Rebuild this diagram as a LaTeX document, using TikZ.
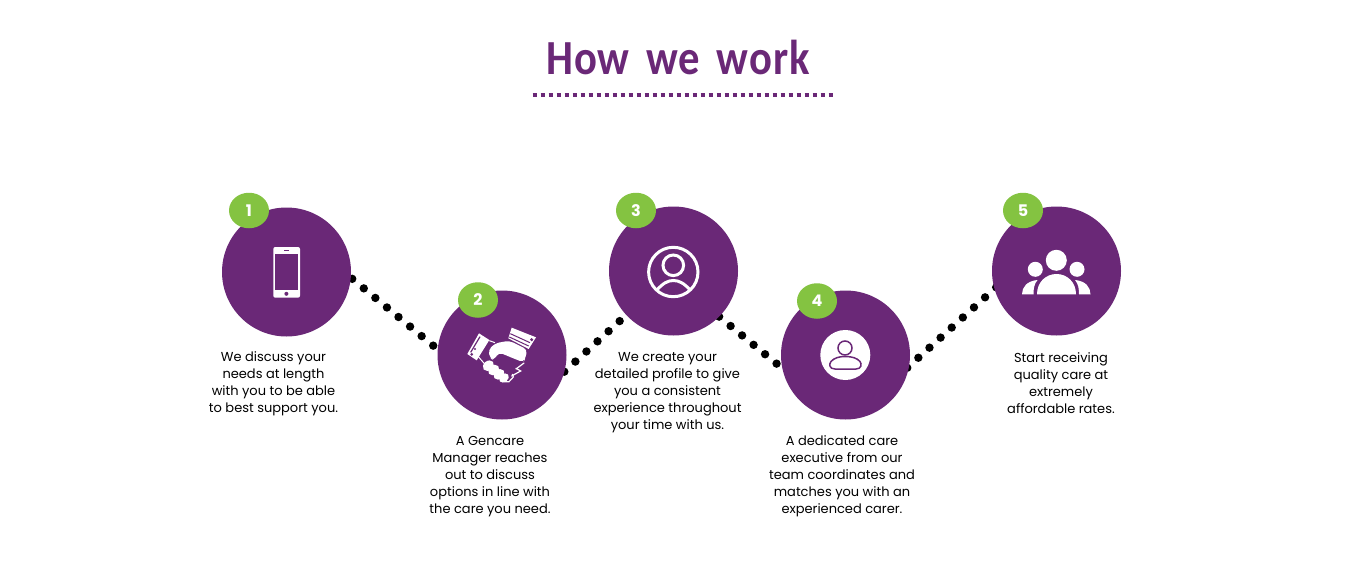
\documentclass[tikz,border=0pt]{standalone}
\usepackage{fontspec}
\setmainfont{Poppins}
\newfontfamily\titlefont[WordSpace=1.6,LetterSpace=2]{Carlito}
\usetikzlibrary{backgrounds}
\definecolor{gcpurple}{HTML}{6A2877}
\definecolor{gcgreen}{HTML}{84C341}
\tikzset{
  x=1pt,y=-1pt,
  bigdisc/.style={circle,fill=gcpurple,minimum size=129pt,inner sep=0pt,outer sep=0pt},
  badge/.style={ellipse,fill=gcgreen,minimum width=40pt,minimum height=35.5pt,inner sep=0pt,outer sep=0pt,text=white,font=\fontsize{16}{16}\selectfont\bfseries},
  caption/.style={align=center,inner sep=0pt,font=\fontsize{13}{17}\selectfont,text=black},
  dotline/.style={line width=8.4pt,line cap=round,black},
  iconline/.style={draw=white,line width=3pt},
}
\usetikzlibrary{shapes.geometric}
\begin{document}
\begin{tikzpicture}
\useasboundingbox (0,0) rectangle (1366,586);
% title
\node[inner sep=0pt,text=gcpurple,xscale=0.87,font=\fontsize{49}{49}\selectfont\titlefont\bfseries] (title) at (678,57) {How we work};
\coordinate (ruleL) at (532.7,95);
\coordinate (ruleR) at (833.3,95);
\draw[gcpurple,line width=4pt,dash pattern=on 4pt off 4pt] (ruleL) -- (ruleR);
% discs
\node[bigdisc] (c1) at (286.5,272) {};
\node[bigdisc] (c2) at (502,355) {};
\node[bigdisc] (c3) at (673.5,271) {};
\node[bigdisc] (c4) at (845.5,355) {};
\node[bigdisc] (c5) at (1056.5,271) {};
% connectors behind the discs
\begin{scope}[on background layer]
\fill[white] (0,0) rectangle (1366,586);
\draw[dotline,dash pattern=on 0pt off 15pt,dash phase=13.1pt] (c1.-5.4) -- (c2.175.4);
\draw[dotline,dash pattern=on 0pt off 15pt] (c2.-15.5) -- (c3.223);
\draw[dotline,dash pattern=on 0pt off 14.85pt] (c3.-45.6) -- (c4.192.2);
\draw[dotline,dash pattern=on 0pt off 15pt,shorten <=-2.4pt,shorten >=-3pt] (c4.-10) -- (c5.196.4);
\end{scope}
% badges
\node[badge] (b1) at (249,210.5) {1};
\node[badge] (b2) at (478,300) {2};
\node[badge] (b3) at (636,210.5) {3};
\node[badge] (b4) at (817,301) {4};
\node[badge] (b5) at (1023,210.5) {5};
% captions
\node[caption] (t1) at (273.5,383.7) {We discuss your\\needs at length\\with you to be able\\to best support you.};
\node[caption] (t2) at (490,476.8) {A Gencare\\Manager reaches\\out to discuss\\options in line with\\the care you need.};
\node[caption] (t3) at (667.5,393) {We create your\\detailed profile to give\\you a consistent\\experience throughout\\your time with us.};
\node[caption] (t4) at (842,476.3) {A dedicated care\\executive from our\\team coordinates and\\matches you with an\\experienced carer.};
\node[caption] (t5) at (1061,382.8) {Start receiving\\quality care at\\extremely\\affordable rates.};
% icon 1: phone
\fill[white,rounded corners=2pt] (273.3,247) rectangle (300,297.7);
\fill[gcpurple] (275.3,254) rectangle (297.7,290.3);
\fill[gcpurple] (286.4,293.8) circle (2pt);
\fill[gcpurple] (284,250) rectangle (289.3,250.8);
% icon 2: handshake
\begin{scope}[shift={(430,275)},x=0.33333pt,y=-0.33333pt]
\fill[white] (112,237) -- (147,175) -- (178,195) -- (140,256) -- cycle;
\fill[gcpurple] (125,238) circle (4.5);
\fill[gcpurple] (135,222) circle (3.5);
\draw[gcpurple,line width=1.2pt] (150,185) -- (122,232);
\fill[white] (245,158) -- (318,187) -- (296,222) -- (235,190) -- cycle;
\fill[gcpurple] (305,194) circle (5);
\draw[gcpurple,line width=1pt] (241,176) -- (300,203);
\draw[gcpurple,line width=1pt] (238,186) -- (296,213);
\fill[white,rounded corners=4pt] (238,197) -- (195,205) -- (175,225) -- (180,250) -- (192,256) -- (206,232) -- (226,240) -- (250,250) -- (280,262) -- (286,250) -- (292,224) -- cycle;
\draw[white,line width=1pt] (178,197) -- (195,203);
\draw[white,line width=1pt] (145,245) -- (165,268);
\draw[white,line width=1.2pt,line cap=round] (282,264) -- (258,282);
\draw[white,line width=1.2pt,line cap=round] (258,280) -- (272,288) -- (245,303);
\draw[white,line width=1.2pt,line cap=round] (247,298) -- (250,306) -- (237,320) -- (222,320);
\fill[white,rotate around={40:(175,272)}] (175,272) ellipse (18 and 14);
\fill[white,rotate around={40:(191,285)}] (191,285) ellipse (18 and 14);
\fill[white,rotate around={40:(207,298)}] (207,298) ellipse (18 and 14);
\fill[white,rotate around={40:(222,309)}] (222,309) ellipse (16 and 12);
\end{scope}
% icon 3: user in ring
\begin{scope}
\draw[iconline] (673.3,272) circle (24.7pt);
\draw[iconline] (673.3,265.3) circle (10.3pt);
\clip (673.3,272) circle (24.7pt);
\draw[iconline] (656,291) .. controls (663,283) and (668,280.5) .. (673.3,280.5) .. controls (679,280.5) and (684,283) .. (691,291);
\end{scope}
% icon 4: user in white disc
\fill[white] (845.3,355) circle (25pt);
\draw[gcpurple,line width=1.5pt] (845,348) circle (7pt);
\draw[gcpurple,line width=1.5pt] (835,369) .. controls (829,369) and (829,364) .. (831,361.5) .. controls (834,358) and (839,356.5) .. (845,356.5) .. controls (852,356.5) and (857,358) .. (860,361.5) .. controls (862,364) and (861.5,369) .. (856,369) -- cycle;
% icon 5: group
\fill[white] (1056.3,260.3) circle (10.5pt);
\fill[white] (1035.3,269.3) circle (7.5pt);
\fill[white] (1077,269.3) circle (7.5pt);
\fill[white] (1037,294.3) .. controls (1037,282) and (1046,274) .. (1056.5,274) .. controls (1067,274) and (1076,282) .. (1076,294.3) -- cycle;
\fill[white] (1022,294.3) .. controls (1022,287) and (1027,281) .. (1037.5,280) .. controls (1034,284) and (1033.5,289) .. (1033.5,294.3) -- cycle;
\fill[white] (1090.5,294.3) .. controls (1090.5,287) and (1085.5,281) .. (1075,280) .. controls (1078.5,284) and (1079,289) .. (1079,294.3) -- cycle;
\end{tikzpicture}
\end{document}
